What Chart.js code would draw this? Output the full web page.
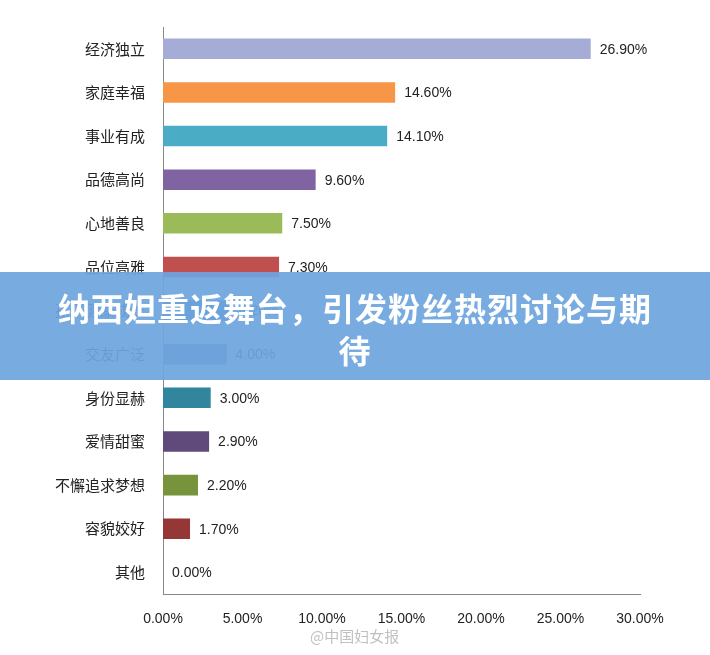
<!DOCTYPE html>
<html><head><meta charset="utf-8">
<script src="https://cdn.jsdelivr.net/npm/chart.js@4"></script>
<style>
body{margin:0;background:#fff;width:710px;height:655px;overflow:hidden;position:relative;font-family:"Noto Sans CJK SC",sans-serif}
#wrap{position:absolute;left:0;top:0;width:710px;height:655px}
#band{position:absolute;left:0;top:272px;width:710px;height:108px;background:rgba(110,165,222,0.93);color:#fff;font-weight:bold;font-size:32px;line-height:42px;text-align:center;padding-top:14px;box-sizing:border-box;letter-spacing:1px}
#wm{position:absolute;left:310px;top:625px;color:rgba(150,150,150,0.6);font-size:15px}
</style></head><body>
<div id="wrap"><canvas id="c" width="710" height="655"></canvas></div>
<div id="band">纳西妲重返舞台，引发粉丝热烈讨论与期<br>待</div>
<div id="wm">@中国妇女报</div>
<script>
const categories=["经济独立","家庭幸福","事业有成","品德高尚","心地善良","品位高雅","孩子健康成长","交友广泛","身份显赫","爱情甜蜜","不懈追求梦想","容貌姣好","其他"];
const values=[26.9,14.6,14.1,9.6,7.5,7.3,4.2,4.0,3.0,2.9,2.2,1.7,0.0];
const colors=["#a5acd6","#f79646","#4bacc6","#8064a2","#9bbb59","#c0504d","#4f81bd","#5f7fa8","#31859c","#604a7b","#77933c","#953735","#4f81bd"];
const xTicks=[0,5,10,15,20,25,30];
const labelPlugin={id:'lbl',afterDatasetsDraw(ch){const ctx=ch.ctx;const m=ch.getDatasetMeta(0);ctx.save();ctx.font='14px "Liberation Sans", Arial';ctx.fillStyle='#222';ctx.textBaseline='middle';m.data.forEach((b,i)=>{ctx.fillText(values[i].toFixed(2)+'%',b.x+9,b.y+1);});ctx.restore();}};
new Chart(document.getElementById('c'),{type:'bar',data:{labels:categories,datasets:[{data:values,backgroundColor:colors,barPercentage:0.47,categoryPercentage:1}]},
options:{indexAxis:'y',responsive:false,animation:false,layout:{padding:{left:38,right:70,top:27,bottom:15}},plugins:{legend:{display:false},tooltip:{enabled:false}},
scales:{x:{min:0,max:30,afterBuildTicks(a){a.ticks=xTicks.map(v=>({value:v}));},ticks:{callback:v=>v.toFixed(2)+'%',color:'#222',font:{size:14,family:'"Liberation Sans", Arial'},maxRotation:0,padding:12},grid:{display:false,drawTicks:true,tickLength:5},border:{color:'#888'}},
y:{afterFit(a){a.width=125;},ticks:{color:'#222',font:{size:15,family:'"Noto Sans CJK SC"'},padding:13},grid:{display:false,drawTicks:true,tickLength:5,offset:true},border:{color:'#888'}}}},plugins:[labelPlugin]});
</script></body></html>
